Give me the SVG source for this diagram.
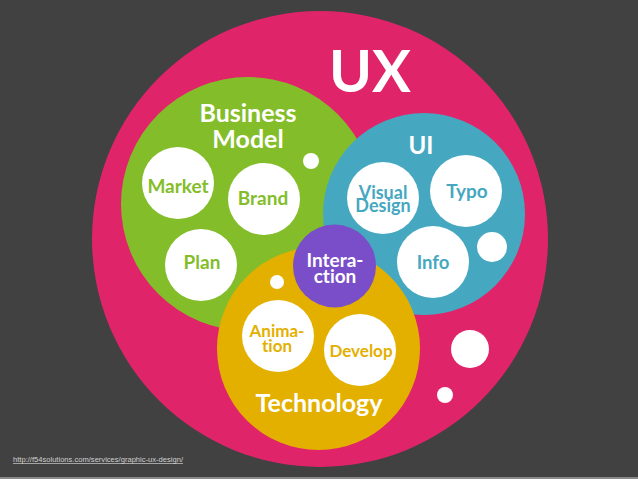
<svg xmlns="http://www.w3.org/2000/svg" width="638" height="479" viewBox="0 0 638 479">
<style>
text{font-family:Lato,"Open Sans","Liberation Sans",sans-serif;font-weight:bold;text-anchor:middle;font-variant-ligatures:none;font-feature-settings:"liga" 0}
.w{fill:#ffffff}
.g{fill:#84bd2a}
.b{fill:#45a8c0}
.y{fill:#e3b000}
.dot{fill:#ffffff}
</style>
<rect x="0" y="0" width="638" height="479" fill="#414141"/>
<rect x="0" y="477" width="638" height="2" fill="#8a8a8a"/>
<g id="ux">
<circle cx="320" cy="239" r="228" fill="#e0246a"/>
<text class="w" x="370" y="92" font-size="58" font-weight="900">UX</text>
</g>
<g id="business-model">
<circle cx="248" cy="204" r="127" fill="#84bd2a"/>
<text class="w" font-size="25"><tspan x="248" y="122">Business</tspan><tspan x="248" y="148">Model</tspan></text>
<circle class="dot" cx="311" cy="161" r="8"/>
</g>
<g id="ui">
<circle cx="424" cy="214" r="101" fill="#45a8c0"/>
<text class="w" x="421" y="154" font-size="24">UI</text>
<circle class="dot" cx="492" cy="247" r="15"/>
</g>
<g id="technology">
<circle cx="318.5" cy="348.5" r="101.5" fill="#e3b000"/>
<text class="w" x="319" y="412" font-size="25">Technology</text>
<circle class="dot" cx="277" cy="282" r="7"/>
</g>
<g id="market"><circle class="dot" cx="178" cy="183" r="36"/><text class="g" x="178" y="193" font-size="19">Market</text></g>
<g id="brand"><circle class="dot" cx="264" cy="199" r="36"/><text class="g" x="263" y="205" font-size="19">Brand</text></g>
<g id="plan"><circle class="dot" cx="201" cy="265" r="36"/><text class="g" x="202" y="269" font-size="19">Plan</text></g>
<g id="visual-design"><circle class="dot" cx="383" cy="198" r="36"/><text class="b" font-size="18"><tspan x="383" y="199">Visual</tspan><tspan x="383" y="212">Design</tspan></text></g>
<g id="typo"><circle class="dot" cx="466" cy="191" r="36"/><text class="b" x="467" y="198" font-size="19">Typo</text></g>
<g id="info"><circle class="dot" cx="433" cy="262" r="36"/><text class="b" x="433" y="269" font-size="18.5">Info</text></g>
<g id="animation"><circle class="dot" cx="278" cy="336" r="36"/><text class="y" font-size="17"><tspan x="277" y="337">Anima-</tspan><tspan x="277" y="352">tion</tspan></text></g>
<g id="develop"><circle class="dot" cx="360" cy="350" r="36"/><text class="y" x="361" y="357" font-size="17">Develop</text></g>
<g id="interaction"><circle cx="334.5" cy="266" r="41.5" fill="#7a4ec8"/><text class="w" font-size="19"><tspan x="335" y="267">Intera-</tspan><tspan x="335" y="283">ction</tspan></text></g>
<g id="bubbles">
<circle class="dot" cx="470" cy="349" r="19"/>
<circle class="dot" cx="445" cy="395" r="8"/>
</g>
<g id="connectors"></g>
<text x="13" y="462" font-size="7" textLength="170" lengthAdjust="spacingAndGlyphs" fill="#d0d0d0" text-decoration="underline" style="text-anchor:start;font-family:'Liberation Sans',sans-serif;font-weight:normal">http://f54solutions.com/services/graphic-ux-design/</text>
</svg>
